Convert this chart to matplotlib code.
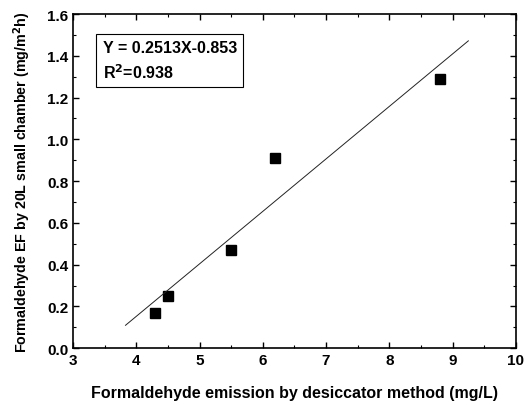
import numpy as np
import matplotlib.pyplot as plt
from matplotlib.ticker import MultipleLocator

plt.rcParams["font.family"] = "Liberation Sans"
plt.rcParams["font.weight"] = "bold"

# data
desiccator = [4.3, 4.5, 5.5, 6.2, 8.8]
chamber_ef = [0.17, 0.25, 0.47, 0.91, 1.29]
slope = 0.2513
intercept = -0.853
fit_range = [3.83, 9.25]

fig = plt.figure(figsize=(5.29, 4.06), dpi=100)
ax = fig.add_axes([0.138, 0.140, 0.837, 0.823])

ax.plot(desiccator, chamber_ef, "s", color="black", markersize=6.5)
xf = np.array(fit_range)
ax.plot(xf, slope * xf + intercept, color="#222222", linewidth=0.7)

ax.set_xlim(3, 10)
ax.set_ylim(0, 1.6)
ax.xaxis.set_major_locator(MultipleLocator(1))
ax.xaxis.set_minor_locator(MultipleLocator(0.5))
ax.yaxis.set_major_locator(MultipleLocator(0.2))
ax.yaxis.set_minor_locator(MultipleLocator(0.1))
ax.tick_params(which="both", direction="in", top=True, right=True, labelsize=11)
ax.tick_params(which="major", length=4, width=1)
ax.tick_params(which="minor", length=2, width=0.8)
ax.yaxis.set_major_formatter(plt.FormatStrFormatter("%.1f"))
for s in ax.spines.values():
    s.set_linewidth(1.2)

ax.set_xlabel("Formaldehyde emission by desiccator method (mg/L)", fontsize=11.5, fontweight="bold", labelpad=13)
ax.set_ylabel("Formaldehyde EF by 20L small chamber (mg/m$^\\mathbf{2}$h)", fontsize=10.3, fontweight="bold", labelpad=10)

ax.text(3.47, 1.475, "Y = 0.2513X-0.853\nR$^\\mathbf{2}$=0.938", fontsize=11.5, fontweight="bold",
        va="top", ha="left", linespacing=1.45,
        bbox=dict(boxstyle="square,pad=0.4", facecolor="white", edgecolor="black", linewidth=0.8))

plt.savefig("out.png", dpi=100)
